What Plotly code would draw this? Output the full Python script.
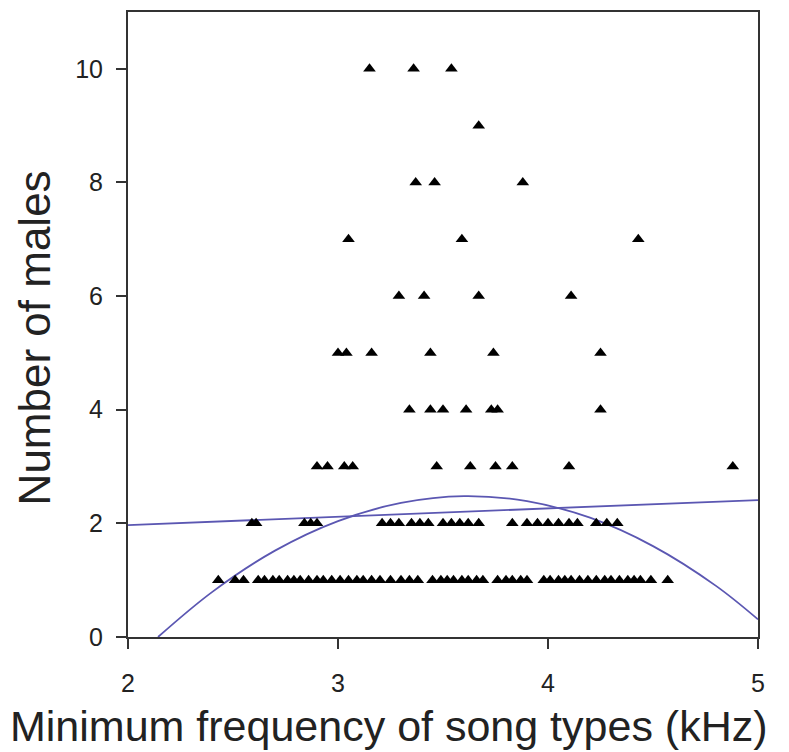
import plotly.graph_objects as go

# ---- data ----
x_n10 = [3.15, 3.36, 3.54]
x_n9 = [3.67]
x_n8 = [3.37, 3.46, 3.88]
x_n7 = [3.05, 3.59, 4.43]
x_n6 = [3.29, 3.41, 3.67, 4.11]
x_n5 = [3.00, 3.04, 3.16, 3.44, 3.74, 4.25]
x_n4 = [3.34, 3.44, 3.50, 3.61, 3.73, 3.76, 4.25]
x_n3 = [2.90, 2.95, 3.03, 3.07, 3.47, 3.63, 3.75, 3.83, 4.10, 4.88]
x_n2 = [2.59, 2.61, 2.84, 2.87, 2.90, 3.21, 3.25, 3.29, 3.35, 3.39, 3.43,
        3.50, 3.54, 3.58, 3.62, 3.67, 3.83, 3.90, 3.95, 4.00, 4.05, 4.10,
        4.14, 4.23, 4.28, 4.33]
x_n1 = [2.43, 2.51, 2.55, 2.62, 2.65, 2.69, 2.72, 2.76, 2.79, 2.82, 2.86,
        2.90, 2.93, 2.97, 3.01, 3.05, 3.09, 3.12, 3.16, 3.20, 3.25, 3.30,
        3.34, 3.38, 3.45, 3.49, 3.52, 3.55, 3.59, 3.62, 3.66, 3.69, 3.76,
        3.80, 3.83, 3.87, 3.90, 3.98, 4.01, 4.05, 4.08, 4.11, 4.15, 4.19,
        4.23, 4.27, 4.30, 4.34, 4.38, 4.41, 4.44, 4.49, 4.57]

groups = [(10, x_n10), (9, x_n9), (8, x_n8), (7, x_n7), (6, x_n6), (5, x_n5),
          (4, x_n4), (3, x_n3), (2, x_n2), (1, x_n1)]

# linear fit line (read endpoints)
lin_x = [2.0, 5.0]
lin_y = [1.97, 2.41]

# quadratic fit curve (read points)
quad_x = [2.143, 2.4, 2.7, 3.0, 3.3, 3.6, 3.9, 4.2, 4.5, 4.8, 5.0]
quad_y = [0.0, 0.79, 1.52, 2.04, 2.36, 2.48, 2.39, 2.10, 1.60, 0.90, 0.31]

x_ticks = [2, 3, 4, 5]
y_ticks = [0, 2, 4, 6, 8, 10]

# ---- figure ----
xs, ys = [], []
for n, xv in groups:
    xs += xv
    ys += [n] * len(xv)

line_col = "#5b57b2"
fig = go.Figure()
fig.add_trace(go.Scatter(x=lin_x, y=lin_y, mode="lines",
                         line=dict(color=line_col, width=1.8), hoverinfo="skip"))
fig.add_trace(go.Scatter(x=quad_x, y=quad_y, mode="lines",
                         line=dict(color=line_col, width=1.8, shape="spline"),
                         hoverinfo="skip"))
fig.add_trace(go.Scatter(x=xs, y=ys, mode="markers",
                         marker=dict(symbol="triangle-up", size=11, color="black",
                                     line=dict(width=0))))

axis_common = dict(showgrid=False, zeroline=False, showline=True, linecolor="#333",
                   linewidth=2, mirror=True, ticks="outside", ticklen=10,
                   tickwidth=2, tickcolor="#333",
                   tickfont=dict(family="Liberation Sans, Arial", size=25, color="#222"))

fig.update_xaxes(range=[2, 5], tickvals=x_ticks, ticklabelstandoff=13, **axis_common)
fig.update_yaxes(range=[0, 11], tickvals=y_ticks, ticklabelstandoff=8, **axis_common)

# page body has an 8px default margin, so the figure is offset by 8px
fig.update_layout(
    width=781, height=744,
    margin=dict(l=120, r=31, t=2, b=114.5),
    plot_bgcolor="white", paper_bgcolor="white",
    showlegend=False,
    annotations=[
        dict(text="Minimum frequency of song types (kHz)", xref="paper", yref="paper",
             x=0.415, y=-0.142, xanchor="center", yanchor="middle", showarrow=False,
             font=dict(family="Liberation Sans, Arial", size=43, color="#222")),
        dict(text="Number of males", xref="paper", yref="paper",
             x=-0.148, y=0.479, xanchor="center", yanchor="middle", showarrow=False,
             textangle=-90,
             font=dict(family="Liberation Sans, Arial", size=44, color="#222")),
    ],
)

fig.write_html("out.html")
